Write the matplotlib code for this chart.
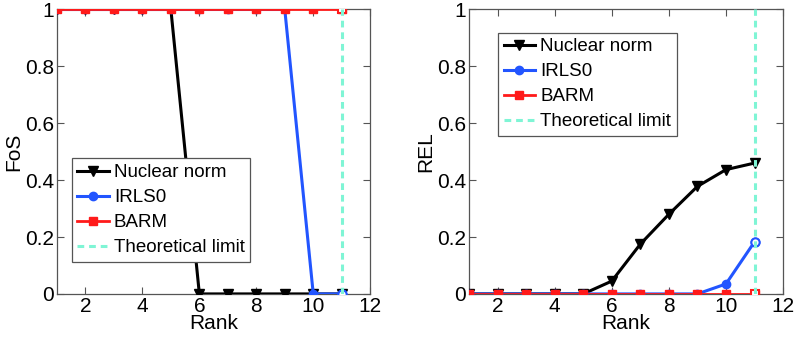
import matplotlib
matplotlib.use("Agg")
import matplotlib.pyplot as plt

plt.rcParams['font.family'] = ['Liberation Sans', 'DejaVu Sans']

rank = [1, 2, 3, 4, 5, 6, 7, 8, 9, 10, 11]
fos_nuclear = [1, 1, 1, 1, 1, 0, 0, 0, 0, 0, 0]
fos_irls0 = [1, 1, 1, 1, 1, 1, 1, 1, 1, 0, 0]
fos_barm = [1, 1, 1, 1, 1, 1, 1, 1, 1, 1, 1]
rel_nuclear = [0, 0, 0, 0, 0, 0.045, 0.175, 0.28, 0.378, 0.437, 0.46]
rel_irls0 = [0, 0, 0, 0, 0, 0, 0, 0, 0, 0.035, 0.183]
rel_barm = [0, 0, 0, 0, 0, 0, 0, 0, 0, 0, 0]
theo_limit = 11
xticks = [2, 4, 6, 8, 10, 12]
yticks = [0, 0.2, 0.4, 0.6, 0.8, 1]
ytick_labels = ['0', '0.2', '0.4', '0.6', '0.8', '1']

C_BLACK = 'black'
C_BLUE = '#2255ff'
C_RED = '#ff1a1a'
C_CYAN = '#7ff5d5'

fig = plt.figure(figsize=(7.97, 3.39), dpi=100)
ax1 = fig.add_axes([0.0715, 0.133, 0.393, 0.839])
ax2 = fig.add_axes([0.5885, 0.133, 0.394, 0.839])

def draw(ax, nuc, irl, barm, ylabel, legloc):
    ax.plot(rank, nuc, color=C_BLACK, lw=2.2, marker='v', ms=7, label='Nuclear norm', zorder=3)
    ax.plot(rank, irl, color=C_BLUE, lw=2.2, marker='o', ms=6, label='IRLS0', zorder=4)
    ax.plot(rank, barm, color=C_RED, lw=2.0, marker='s', ms=6, label='BARM', zorder=5)
    # last points drawn hollow
    ax.plot(rank[-1], irl[-1], marker='o', ms=6, mfc='white', mec=C_BLUE, mew=1.5, ls='none', zorder=6)
    ax.plot(rank[-1], barm[-1], marker='s', ms=6, mfc='white', mec=C_RED, mew=1.5, ls='none', zorder=6)
    ax.plot([theo_limit, theo_limit], [0, 1], color=C_CYAN, lw=2.2, ls=(0, (2.2, 1.6)),
            label='Theoretical limit', zorder=8)
    ax.set_xlim(1, 12)
    ax.set_ylim(0, 1)
    ax.set_xticks(xticks)
    ax.set_yticks(yticks)
    ax.set_yticklabels(ytick_labels)
    ax.tick_params(direction='in', top=True, right=True, labelsize=15, length=5,
                   color='#555555', pad=2)
    for s in ax.spines.values():
        s.set_color('#555555')
        s.set_linewidth(0.9)
    ax.set_xlabel('Rank', fontsize=15, labelpad=-1)
    ax.set_ylabel(ylabel, fontsize=15, labelpad=1)
    leg = ax.legend(loc=legloc, fontsize=13.5, fancybox=False, framealpha=1,
                    edgecolor='#555555', handlelength=1.7, handletextpad=0.25,
                    borderpad=0.3, labelspacing=0.42, borderaxespad=0)
    leg.get_frame().set_linewidth(0.9)
    return leg

draw(ax1, fos_nuclear, fos_irls0, fos_barm, 'FoS', (0.047, 0.113))
draw(ax2, rel_nuclear, rel_irls0, rel_barm, 'REL', (0.092, 0.555))

fig.savefig('out.png', dpi=100)
